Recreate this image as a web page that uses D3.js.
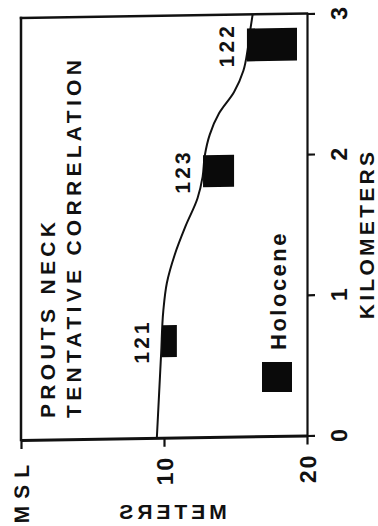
<!DOCTYPE html>
<html>
<head>
<meta charset="utf-8">
<script src="https://cdn.jsdelivr.net/npm/d3@7"></script>
<style>
  html, body { margin: 0; padding: 0; background: #fff; }
  svg { display: block; }
  text { font-family: "Liberation Sans", Arial, Helvetica, sans-serif; font-weight: bold; fill: #111; }
</style>
</head>
<body>
<script>
// Distance along the section (km) and depth of the correlated surface (m below MSL)
const profileKm = [0, 0.3, 0.6, 0.9, 1.1, 1.3, 1.5, 1.7, 1.85, 2.0, 2.15, 2.3, 2.45, 2.6, 2.75, 2.9, 3.0];
const profileM  = [9.5, 9.65, 9.8, 9.95, 10.2, 10.75, 11.5, 12.35, 12.7, 12.85, 13.2, 13.85, 14.9, 15.55, 15.85, 16.05, 16.2];

// Holocene sample intervals
const sampleIds  = ["121", "123", "122"];
const sampleKmLo = [0.572, 1.777, 2.666];
const sampleKmHi = [0.800, 2.004, 2.900];
const sampleMLo  = [9.86, 12.73, 15.8];
const sampleMHi  = [10.9, 14.9, 19.3];

// Axis ticks
const kmTicks = [0, 1, 2, 3];
const meterTicks = [0, 10, 20];
const meterTickLabels = ["MSL", "10", "20"];

const titleLines = ["PROUTS NECK", "TENTATIVE CORRELATION"];
const legendLabel = "Holocene";

const W = 378, H = 526;
const svg = d3.select("body").append("svg").attr("width", W).attr("height", H);
svg.append("rect").attr("width", W).attr("height", H).attr("fill", "#fff");

// The plot frame sits on a slight slant
const plot = svg.append("g").attr("transform", "skewY(-0.9)");

const x = d3.scaleLinear().domain([0, 20]).range([21, 307]);
const y = d3.scaleLinear().domain([0, 3]).range([440.3, 18.3]);

// Frame: left and top edges
plot.append("line")
  .attr("x1", x(0)).attr("x2", x(0))
  .attr("y1", y(3)).attr("y2", y(0))
  .attr("stroke", "#111").attr("stroke-width", 2.5).attr("stroke-linecap", "square");
plot.append("line")
  .attr("x1", x(0)).attr("x2", x(20))
  .attr("y1", y(3)).attr("y2", y(3))
  .attr("stroke", "#111").attr("stroke-width", 2.5).attr("stroke-linecap", "square");

// Kilometre axis on the right
const kmAxis = plot.append("g")
  .attr("transform", `translate(${x(20)},0)`)
  .call(d3.axisRight(y).tickValues(kmTicks).tickSize(8).tickSizeOuter(0).tickFormat(d3.format("d")));
kmAxis.select(".domain").attr("stroke", "#111").attr("stroke-width", 2.2);
kmAxis.selectAll(".tick line").attr("stroke", "#111").attr("stroke-width", 2.2);
kmAxis.selectAll(".tick text")
  .attr("x", null).attr("y", null).attr("dy", "0.35em")
  .attr("transform", "translate(32,0) rotate(-90)")
  .attr("text-anchor", "middle")
  .style("font-size", "23px")
  .style("font-family", "'Liberation Sans', Arial, sans-serif")
  .style("font-weight", "bold")
  .attr("fill", "#111");

// Metre axis along the bottom
const mAxis = plot.append("g")
  .attr("transform", `translate(0,${y(0)})`)
  .call(d3.axisBottom(x).tickValues(meterTicks).tickSize(9).tickSizeOuter(0)
    .tickFormat((d, i) => meterTickLabels[i]));
mAxis.select(".domain").attr("stroke", "#111").attr("stroke-width", 3);
mAxis.selectAll(".tick line").attr("stroke", "#111").attr("stroke-width", 2.2);
mAxis.selectAll(".tick text")
  .attr("x", null).attr("y", null).attr("dy", "0.35em")
  .attr("transform", "translate(0,18) rotate(-90)")
  .attr("text-anchor", "end")
  .style("font-size", (d) => d === 0 ? "21px" : "23px")
  .style("letter-spacing", (d) => d === 0 ? "7px" : "2px")
  .style("font-family", "'Liberation Sans', Arial, sans-serif")
  .style("font-weight", "bold")
  .attr("fill", "#111");

// Correlated surface
const profile = profileKm.map((km, i) => ({ km, m: profileM[i] }));
plot.append("path")
  .datum(profile)
  .attr("fill", "none")
  .attr("stroke", "#111")
  .attr("stroke-width", 2)
  .attr("d", d3.line().x(d => x(d.m)).y(d => y(d.km)).curve(d3.curveMonotoneY));

// Holocene sample blocks
const samples = sampleIds.map((id, i) => ({
  id, kmLo: sampleKmLo[i], kmHi: sampleKmHi[i], mLo: sampleMLo[i], mHi: sampleMHi[i]
}));
plot.selectAll("rect.sample")
  .data(samples)
  .join("rect")
  .attr("class", "sample")
  .attr("x", d => x(d.mLo))
  .attr("y", d => y(d.kmHi))
  .attr("width", d => x(d.mHi) - x(d.mLo))
  .attr("height", d => y(d.kmLo) - y(d.kmHi))
  .attr("fill", "#0a0a0a");

plot.selectAll("text.sample-id")
  .data(samples)
  .join("text")
  .attr("class", "sample-id")
  .attr("transform", d => `translate(${x(d.mLo) - 20},${y((d.kmLo + d.kmHi) / 2)}) rotate(-90)`)
  .attr("dy", "0.35em")
  .attr("text-anchor", "middle")
  .style("font-size", "21px")
  .style("letter-spacing", "3px")
  .text(d => d.id);

// Title
const titleX = [48, 74];
svg.selectAll("text.title")
  .data(titleLines)
  .join("text")
  .attr("class", "title")
  .attr("transform", (d, i) => `translate(${titleX[i]},418) rotate(-90)`)
  .attr("dy", "0.35em")
  .attr("text-anchor", "start")
  .style("font-size", "21px")
  .style("letter-spacing", "4.3px")
  .text(d => d);

// Legend
svg.append("rect")
  .attr("x", 262).attr("y", 362).attr("width", 30).attr("height", 30)
  .attr("fill", "#0a0a0a");
svg.append("text")
  .attr("transform", "translate(278,350) rotate(-90)")
  .attr("dy", "0.35em")
  .attr("text-anchor", "start")
  .style("font-size", "22px")
  .style("letter-spacing", "2.5px")
  .text(legendLabel);

// Axis titles
svg.append("text")
  .attr("transform", "translate(367,234) rotate(-90)")
  .attr("dy", "0.35em")
  .attr("text-anchor", "middle")
  .style("font-size", "21px")
  .style("letter-spacing", "3.3px")
  .text("KILOMETERS");

svg.append("text")
  .attr("transform", "translate(171,512) scale(-1,1)")
  .attr("dy", "0.35em")
  .attr("text-anchor", "middle")
  .style("font-size", "21px")
  .style("letter-spacing", "4px")
  .text("METERS");
</script>
</body>
</html>
